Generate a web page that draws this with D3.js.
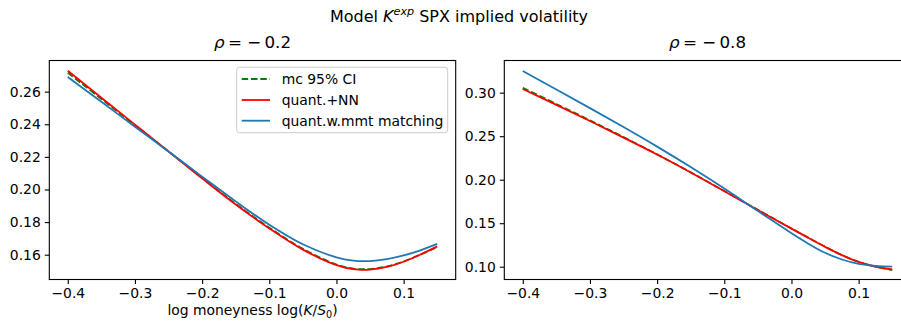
<!DOCTYPE html>
<html><head><meta charset="utf-8">
<script src="https://cdn.jsdelivr.net/npm/d3@7"></script>
<style>body{margin:0;background:#fff}svg{display:block;font-family:"DejaVu Sans",sans-serif}</style>
</head><body><svg id="chart" width="901" height="323"></svg>
<script>
// ---- data ----
const xs = [-0.40,-0.35,-0.30,-0.25,-0.20,-0.15,-0.10,-0.05,0.00,0.025,0.05,0.075,0.10,0.125,0.15];
// rho = -0.2
const leftMC    = [0.2716,0.2555,0.2394,0.2234,0.2071,0.1912,0.1766,0.1636,0.1540,0.1515,0.1512,0.1528,0.1559,0.1601,0.1647];
const leftNN    = [0.2728,0.2563,0.2398,0.2233,0.2068,0.1908,0.1761,0.1631,0.1536,0.1511,0.1508,0.1525,0.1557,0.1601,0.1651];
const leftMMT   = [0.2690,0.2538,0.2385,0.2233,0.2079,0.1927,0.1784,0.1664,0.1584,0.1564,0.1561,0.1573,0.1596,0.1627,0.1666];
// rho = -0.8
const rightMC   = [0.3057,0.2870,0.2682,0.2489,0.2291,0.2085,0.1870,0.1653,0.1440,0.1334,0.1230,0.1134,0.1055,0.1000,0.0962];
const rightNN   = [0.3043,0.2860,0.2674,0.2484,0.2289,0.2083,0.1868,0.1651,0.1438,0.1332,0.1228,0.1133,0.1055,0.1002,0.0968];
const rightMMT  = [0.3249,0.3037,0.2823,0.2605,0.2380,0.2145,0.1898,0.1640,0.1385,0.1265,0.1160,0.1083,0.1033,0.1009,0.1000];
const xTicks = [-0.4,-0.3,-0.2,-0.1,0.0,0.1];
const leftYTicks = [0.16,0.18,0.20,0.22,0.24,0.26];
const rightYTicks = [0.10,0.15,0.20,0.25,0.30];
const seriesNames = ["mc 95% CI","quant.+NN","quant.w.mmt matching"];
const seriesColors = ["#008000","#ff0000","#1f77b4"];

const svg = d3.select("#chart");
const yTop = 60.5, yBot = 279.5, axW = 406.4;
const panels = [
  {x0:49.3, ydom:[0.1448,0.2791], yt:leftYTicks, fmt:".2f", data:[leftMC,leftNN,leftMMT], title:"-0.2", xlabel:true, legend:true},
  {x0:504.3, ydom:[0.0853,0.3370], yt:rightYTicks, fmt:".2f", data:[rightMC,rightNN,rightMMT], title:"-0.8", xlabel:false, legend:false}
];

// suptitle
const st = svg.append("text").attr("x",459).attr("y",21.5).attr("text-anchor","middle")
  .attr("font-size",16).attr("fill","#000");
st.append("tspan").text("Model ");
st.append("tspan").attr("font-style","italic").text("K");
st.append("tspan").attr("font-style","italic").attr("font-size",11.2).attr("dy",-6.5).text("exp");
st.append("tspan").attr("dy",6.5).text(" SPX implied volatility");

panels.forEach((p,i)=>{
  const x = d3.scaleLinear().domain([-0.4275,0.1775]).range([p.x0,p.x0+axW]);
  const y = d3.scaleLinear().domain(p.ydom).range([yBot,yTop]);
  const g = svg.append("g");
  const cid = "clip"+i;
  g.append("clipPath").attr("id",cid).append("rect")
    .attr("x",p.x0).attr("y",yTop).attr("width",axW).attr("height",yBot-yTop);

  const line = d3.line().x((d,j)=>x(xs[j])).y(d=>y(d)).curve(d3.curveCatmullRom.alpha(0.5));
  p.data.forEach((s,k)=>{
    g.append("path").datum(s).attr("d",line).attr("fill","none")
      .attr("stroke",seriesColors[k]).attr("stroke-width",1.8)
      .attr("stroke-dasharray",k===0?"6.5,2.8":null)
      .attr("clip-path",`url(#${cid})`);
  });

  // axes
  const xa = g.append("g").attr("transform",`translate(0,${yBot})`)
    .call(d3.axisBottom(x).tickValues(xTicks).tickFormat(d3.format(".1f")).tickSize(4.5).tickPadding(4));
  const ya = g.append("g").attr("transform",`translate(${p.x0},0)`)
    .call(d3.axisLeft(y).tickValues(p.yt).tickFormat(d3.format(p.fmt)).tickSize(4.5).tickPadding(4));
  [xa,ya].forEach(a=>{
    a.select(".domain").remove();
    a.selectAll("line").attr("stroke","#000").attr("stroke-width",1.1);
    a.selectAll("text").attr("font-size",13.9).attr("fill","#000").attr("font-family","DejaVu Sans");
  });
  g.append("rect").attr("x",p.x0).attr("y",yTop).attr("width",axW).attr("height",yBot-yTop)
    .attr("fill","none").attr("stroke","#000").attr("stroke-width",1.1);

  // axes title
  const cx = p.x0 + axW/2;
  const t = g.append("text").attr("x",cx).attr("y",47.5).attr("text-anchor","middle")
    .attr("font-size",16.7).attr("fill","#000");
  t.append("tspan").attr("font-style","italic").text("ρ");
  t.append("tspan").text("\u2009= ");
  t.append("tspan").text("−" + "\u2009" + p.title.slice(1));

  if(p.xlabel){
    const xl = g.append("text").attr("x",cx).attr("y",315).attr("text-anchor","middle")
      .attr("font-size",13.9).attr("fill","#000");
    xl.append("tspan").text("log moneyness log(");
    xl.append("tspan").attr("font-style","italic").text("K");
    xl.append("tspan").text("/");
    xl.append("tspan").attr("font-style","italic").text("S");
    xl.append("tspan").attr("font-size",9.7).attr("dy",2.5).text("0");
    xl.append("tspan").attr("dy",-2.5).text(")");
  }

  if(p.legend){
    const lg = g.append("g");
    lg.append("rect").attr("x",236.7).attr("y",67.3).attr("width",211).attr("height",65.4)
      .attr("rx",2.8).attr("fill","#fff").attr("fill-opacity",0.8).attr("stroke","#cccccc").attr("stroke-width",1);
    const rowY = [79,100,120.7];
    seriesNames.forEach((n,k)=>{
      lg.append("line").attr("x1",241.7).attr("x2",270).attr("y1",rowY[k]).attr("y2",rowY[k])
        .attr("stroke",seriesColors[k]).attr("stroke-width",1.8)
        .attr("stroke-dasharray",k===0?"6.5,2.8":null);
      lg.append("text").attr("x",281.7).attr("y",rowY[k]+5).attr("font-size",13.9).attr("fill","#000").text(n);
    });
  }
});
</script></body></html>
